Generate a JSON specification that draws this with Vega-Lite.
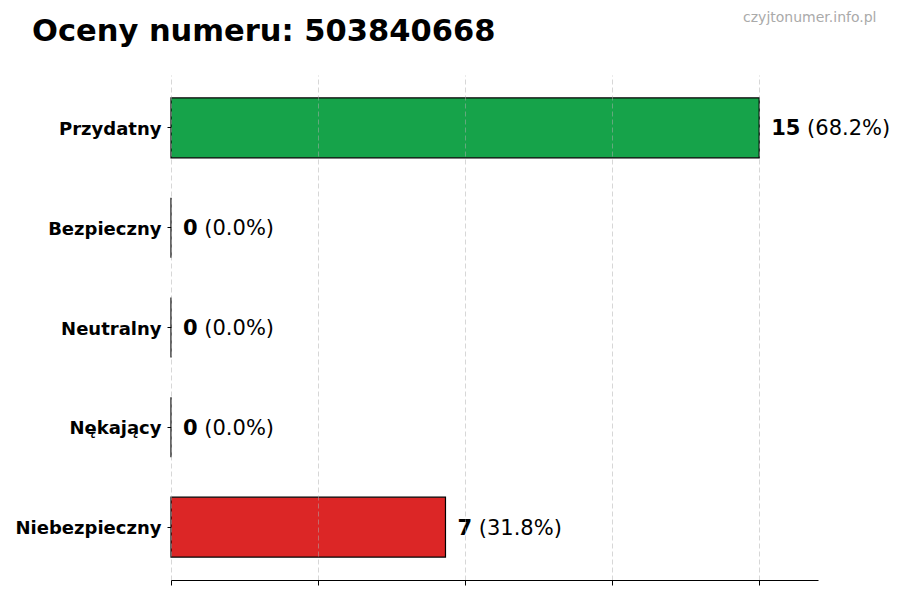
{
  "$schema": "https://vega.github.io/schema/vega-lite/v6.json",
  "autosize": {"type": "none"},
  "padding": {"left": 171, "top": 75, "right": 82, "bottom": 20},
  "width": 647,
  "height": 505,
  "background": "white",
  "title": {
    "text": "Oceny numeru: 503840668",
    "anchor": "start",
    "frame": "group",
    "fontSize": 30.5,
    "fontWeight": "bold",
    "color": "black",
    "baseline": "alphabetic",
    "dx": -139,
    "dy": 65
  },
  "data": {
    "values": [
      {"ocena": "Przydatny", "liczba": 15, "procent": 68.2},
      {"ocena": "Bezpieczny", "liczba": 0, "procent": 0.0},
      {"ocena": "Neutralny", "liczba": 0, "procent": 0.0},
      {"ocena": "Nękający", "liczba": 0, "procent": 0.0},
      {"ocena": "Niebezpieczny", "liczba": 7, "procent": 31.8}
    ]
  },
  "transform": [
    {"calculate": "'(' + format(datum.procent, '.1f') + '%)'", "as": "etykieta"}
  ],
  "encoding": {
    "y": {
      "field": "ocena",
      "type": "nominal",
      "sort": null,
      "scale": {"paddingInner": 0.4, "paddingOuter": 0.23},
      "axis": {
        "title": null,
        "domain": false,
        "ticks": true,
        "tickSize": 4,
        "tickColor": "black",
        "labelFontWeight": "bold",
        "labelFontSize": 18,
        "labelColor": "black",
        "labelPadding": 6,
        "labelOffset": 2,
        "grid": false
      }
    },
    "x": {
      "field": "liczba",
      "type": "quantitative",
      "scale": {"domain": [0, 16.5], "nice": false},
      "axis": {
        "values": [0, 3.75, 7.5, 11.25, 15],
        "labels": false,
        "ticks": true,
        "tickSize": 5,
        "tickColor": "black",
        "domainColor": "black",
        "domainWidth": 1,
        "grid": true,
        "gridDash": [5, 3],
        "gridColor": "#b0b0b0",
        "gridOpacity": 0.5,
        "zindex": 1,
        "title": "czyjtonumer.info.pl",
        "titleX": 705,
        "titleY": -559,
        "titleAlign": "right",
        "titleBaseline": "alphabetic",
        "titleFontWeight": "normal",
        "titleFontSize": 14,
        "titleColor": "#aaaaaa"
      }
    }
  },
  "layer": [
    {
      "mark": {"type": "bar", "stroke": "black", "strokeWidth": 1.2},
      "encoding": {
        "color": {
          "field": "ocena",
          "type": "nominal",
          "scale": {
            "domain": ["Przydatny", "Bezpieczny", "Neutralny", "Nękający", "Niebezpieczny"],
            "range": ["#16a34a", "#2563eb", "#9ca3af", "#f97316", "#dc2626"]
          },
          "legend": null
        }
      }
    },
    {
      "mark": {
        "type": "text",
        "align": "left",
        "baseline": "middle",
        "dx": 12,
        "dy": 1.5,
        "fontSize": 21,
        "fontWeight": "bold",
        "color": "black"
      },
      "encoding": {"text": {"field": "liczba", "type": "quantitative"}}
    },
    {
      "mark": {
        "type": "text",
        "align": "left",
        "baseline": "middle",
        "dx": {"expr": "12 + length(toString(datum.liczba)) * 14.6 + 6.7"},
        "dy": 1.5,
        "fontSize": 21,
        "color": "black"
      },
      "encoding": {"text": {"field": "etykieta", "type": "nominal"}}
    }
  ],
  "config": {
    "font": "DejaVu Sans",
    "view": {"stroke": null}
  }
}
